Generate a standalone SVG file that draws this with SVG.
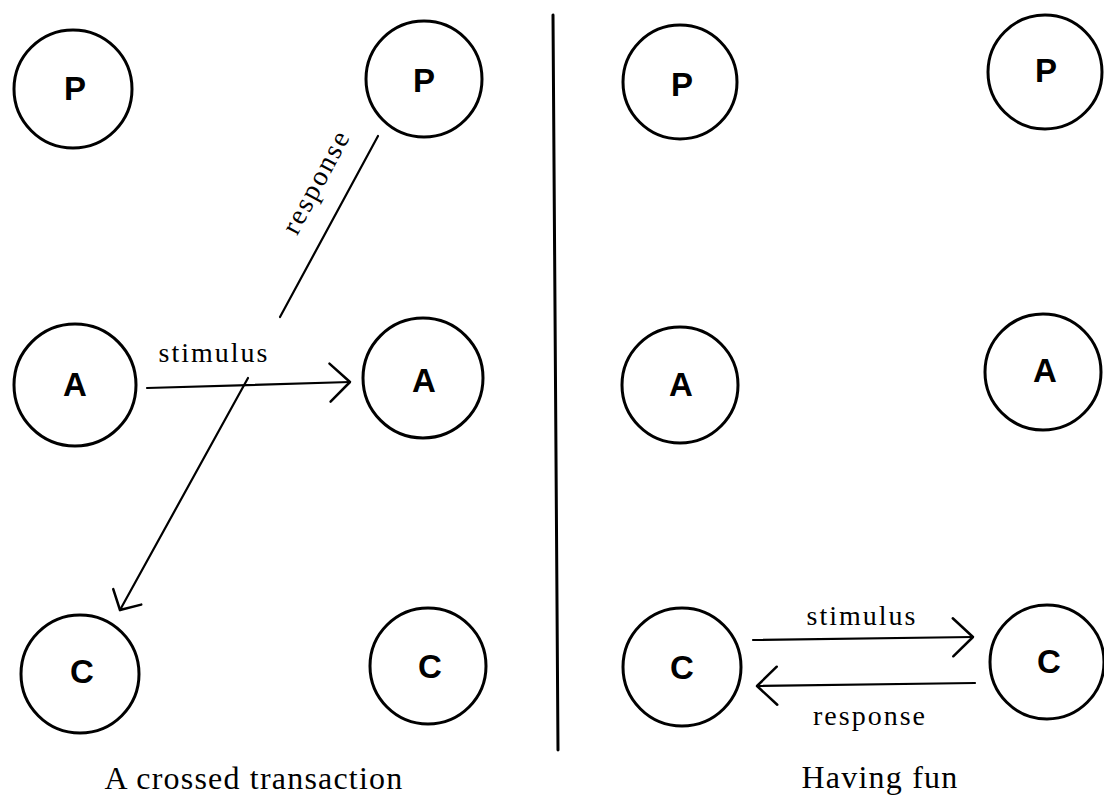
<svg xmlns="http://www.w3.org/2000/svg" width="1104" height="800" viewBox="0 0 1104 800">
  <style>
    .ego { fill: none; stroke: #000; stroke-width: 3; }
    .letter { font-family: "Liberation Sans", Arial, sans-serif; font-weight: bold; font-size: 33px; text-anchor: middle; dominant-baseline: central; fill: #000; }
    .wire { fill: none; stroke: #000; stroke-width: 2.2; stroke-linecap: round; }
    .label { font-family: "Liberation Serif", "Times New Roman", serif; font-size: 28px; letter-spacing: 2px; text-anchor: middle; fill: #000; }
    .caption { font-family: "Liberation Serif", "Times New Roman", serif; font-size: 32px; letter-spacing: 1.2px; text-anchor: middle; fill: #000; }
  </style>
  <defs>
    <marker id="chevron" viewBox="-24 -24 28 48" markerWidth="28" markerHeight="48" refX="0" refY="0" markerUnits="userSpaceOnUse" orient="auto" overflow="visible">
      <path d="M-20,-19 L0,0 L-20,19" fill="none" stroke="#000" stroke-width="2.5" stroke-linecap="round" stroke-linejoin="round"/>
    </marker>
    <marker id="chevron-small" viewBox="-20 -20 24 40" markerWidth="24" markerHeight="40" refX="0" refY="0" markerUnits="userSpaceOnUse" orient="auto" overflow="visible">
      <path d="M-15,-16 L0,0 L-15,16" fill="none" stroke="#000" stroke-width="2.5" stroke-linecap="round" stroke-linejoin="round"/>
    </marker>
  </defs>

  <rect width="1104" height="800" fill="#fff"/>

  <!-- left panel: crossed transaction -->
  <g id="left-p1"><circle class="ego" cx="73" cy="89" r="59"/><text class="letter" x="75" y="88">P</text></g>
  <g id="left-p2"><circle class="ego" cx="424" cy="79" r="58"/><text class="letter" x="424" y="80">P</text></g>
  <g id="left-a1"><circle class="ego" cx="75" cy="385" r="61"/><text class="letter" x="75" y="384">A</text></g>
  <g id="left-a2"><circle class="ego" cx="423" cy="378" r="60"/><text class="letter" x="424" y="380">A</text></g>
  <g id="left-c1"><circle class="ego" cx="80" cy="674" r="59"/><text class="letter" x="82" y="671">C</text></g>
  <g id="left-c2"><circle class="ego" cx="428" cy="666" r="58"/><text class="letter" x="430" y="666">C</text></g>

  <!-- right panel: having fun -->
  <g id="right-p1"><circle class="ego" cx="680" cy="82" r="57"/><text class="letter" x="682" y="84">P</text></g>
  <g id="right-p2"><circle class="ego" cx="1045" cy="72" r="57"/><text class="letter" x="1046" y="70">P</text></g>
  <g id="right-a1"><circle class="ego" cx="680" cy="385" r="58"/><text class="letter" x="681" y="384">A</text></g>
  <g id="right-a2"><circle class="ego" cx="1043" cy="372" r="58"/><text class="letter" x="1045" y="370">A</text></g>
  <g id="right-c1"><circle class="ego" cx="682" cy="667" r="59"/><text class="letter" x="682" y="667">C</text></g>
  <g id="right-c2"><circle class="ego" cx="1047" cy="662" r="57"/><text class="letter" x="1049" y="661">C</text></g>

  <!-- connectors -->
  <g id="connectors">
    <line class="wire" x1="147" y1="388" x2="350" y2="382" marker-end="url(#chevron)"/>
    <line class="wire" x1="378" y1="136" x2="280" y2="317"/>
    <line class="wire" x1="248" y1="378" x2="120" y2="610" marker-end="url(#chevron-small)"/>
    <line class="wire" x1="753" y1="640" x2="973" y2="637" marker-end="url(#chevron)"/>
    <line class="wire" x1="975" y1="683" x2="757" y2="686" marker-end="url(#chevron)"/>
  </g>

  <!-- divider between the two panels -->
  <line x1="553" y1="15" x2="558" y2="750" stroke="#000" stroke-width="3" stroke-linecap="round"/>

  <!-- labels -->
  <text class="label" x="214" y="362">stimulus</text>
  <text class="label" transform="translate(324,186) rotate(-61.7)">response</text>
  <text class="label" x="862" y="625">stimulus</text>
  <text class="label" x="870" y="725">response</text>

  <text class="caption" x="254" y="789">A crossed transaction</text>
  <text class="caption" x="880" y="788">Having fun</text>
</svg>
